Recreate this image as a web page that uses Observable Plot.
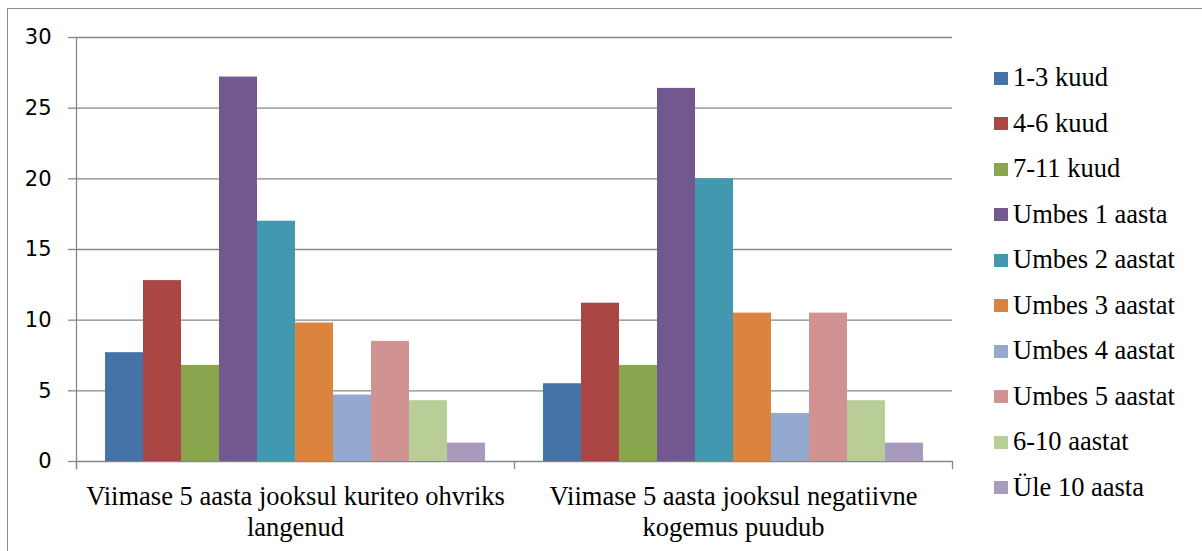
<!DOCTYPE html>
<html>
<head>
<meta charset="utf-8">
<script src="https://cdn.jsdelivr.net/npm/d3@7"></script>
<script src="https://cdn.jsdelivr.net/npm/@observablehq/plot@0.6"></script>
<style>
  html, body { margin: 0; padding: 0; background: #fff; overflow: hidden; }
  #wrap { position: relative; width: 1202px; height: 551px; }
  #border { position: absolute; left: 7px; top: 8px; width: 1300px; height: 700px;
            border-left: 1.3px solid #8a8a8a; border-top: 1.3px solid #8a8a8a; }
  #chart { position: absolute; left: 0; top: 0; }
  #legend { position: absolute; left: 0; top: 0; }
  .row { position: absolute; left: 994px; height: 30px; display: flex; align-items: center;
         font-size: 26.5px; line-height: 30px; color: #000; white-space: nowrap; }
  .row, .row span { font-family: "Liberation Serif", serif !important; }
  .sw { width: 14px; height: 13px; margin-right: 5px; margin-top: 2px; flex: none; }
  #chart g[aria-label^="fx-axis"], #chart g[aria-label^="fx-axis"] text { font-family: "Liberation Serif", serif !important; }
  #chart g[aria-label^="y-axis"], #chart g[aria-label^="y-axis"] text { font-family: "DejaVu Sans", sans-serif !important; }
</style>
</head>
<body>
<div id="wrap">
  <div id="border"></div>
  <div id="chart"></div>
  <div id="legend"></div>
</div>
<script>
const categories = [
  "Viimase 5 aasta jooksul kuriteo ohvriks langenud",
  "Viimase 5 aasta jooksul negatiivne kogemus puudub"
];
const categoryLabels = [
  "Viimase 5 aasta jooksul kuriteo ohvriks\nlangenud",
  "Viimase 5 aasta jooksul negatiivne\nkogemus puudub"
];
const series = ["1-3 kuud", "4-6 kuud", "7-11 kuud", "Umbes 1 aasta", "Umbes 2 aastat",
                "Umbes 3 aastat", "Umbes 4 aastat", "Umbes 5 aastat", "6-10 aastat", "Üle 10 aasta"];
const victimValues     = [7.7, 12.8, 6.8, 27.2, 17.0, 9.8, 4.7, 8.5, 4.3, 1.3];
const noNegativeValues = [5.5, 11.2, 6.8, 26.4, 20.0, 10.5, 3.4, 10.5, 4.3, 1.3];
const colors = ["#4572A7", "#AA4643", "#89A54E", "#71588F", "#4198AF",
                "#DB843D", "#93A9CF", "#D19392", "#B9CD96", "#A99BBD"];
const yTicks = [0, 5, 10, 15, 20, 25, 30];

const valuesByCategory = [victimValues, noNegativeValues];
const data = [];
categories.forEach((c, ci) => series.forEach((s, si) => data.push({cat: c, series: s, value: valuesByCategory[ci][si]})));
const labelOf = new Map(categories.map((c, i) => [c, categoryLabels[i]]));

const gray = "#878787";

const chart = Plot.plot({
  width: 1202,
  height: 551,
  marginLeft: 75,
  marginRight: 250,
  marginTop: 37,
  marginBottom: 90,
  style: {background: "transparent", overflow: "visible"},
  fx: {domain: categories, padding: 0},
  x: {domain: series, paddingInner: 0, paddingOuter: 0.76, axis: null},
  y: {domain: [0, 30]},
  color: {domain: series, range: colors},
  marks: [
    Plot.gridY(yTicks, {stroke: gray, strokeOpacity: 1, strokeWidth: 1.3}),
    Plot.barY(data, {fx: "cat", x: "series", y: "value", fill: "series"}),
    Plot.frame({anchor: "left", facetAnchor: "left", insetBottom: -7, stroke: gray, strokeWidth: 1.3}),
    Plot.frame({anchor: "left", insetTop: 424, insetBottom: -7, stroke: gray, strokeWidth: 1.3}),
    Plot.frame({anchor: "right", facetAnchor: "right", insetTop: 424, insetBottom: -7, stroke: gray, strokeWidth: 1.3}),
    Plot.axisY({ticks: yTicks, tickSize: 8, tickPadding: 17, stroke: gray, strokeWidth: 1.3,
                fontSize: 21, fontFamily: "DejaVu Sans", fill: "#000", label: null}),
    Plot.axisFx({anchor: "bottom", tickSize: 0, tickPadding: 21, label: null,
                 tickFormat: d => labelOf.get(d), lineHeight: 1.17,
                 fontSize: 26.5, fontFamily: "Liberation Serif", fill: "#000"})
  ]
});
document.getElementById("chart").appendChild(chart);

const legend = document.getElementById("legend");
series.forEach((s, i) => {
  const row = document.createElement("div");
  row.className = "row";
  row.style.top = (86 + 45.5 * i - 24) + "px";
  row.style.fontFamily = '"Liberation Serif", serif';
  const sw = document.createElement("div");
  sw.className = "sw";
  sw.style.background = colors[i];
  const t = document.createElement("span");
  t.textContent = s;
  row.appendChild(sw);
  row.appendChild(t);
  legend.appendChild(row);
});
</script>
</body>
</html>
